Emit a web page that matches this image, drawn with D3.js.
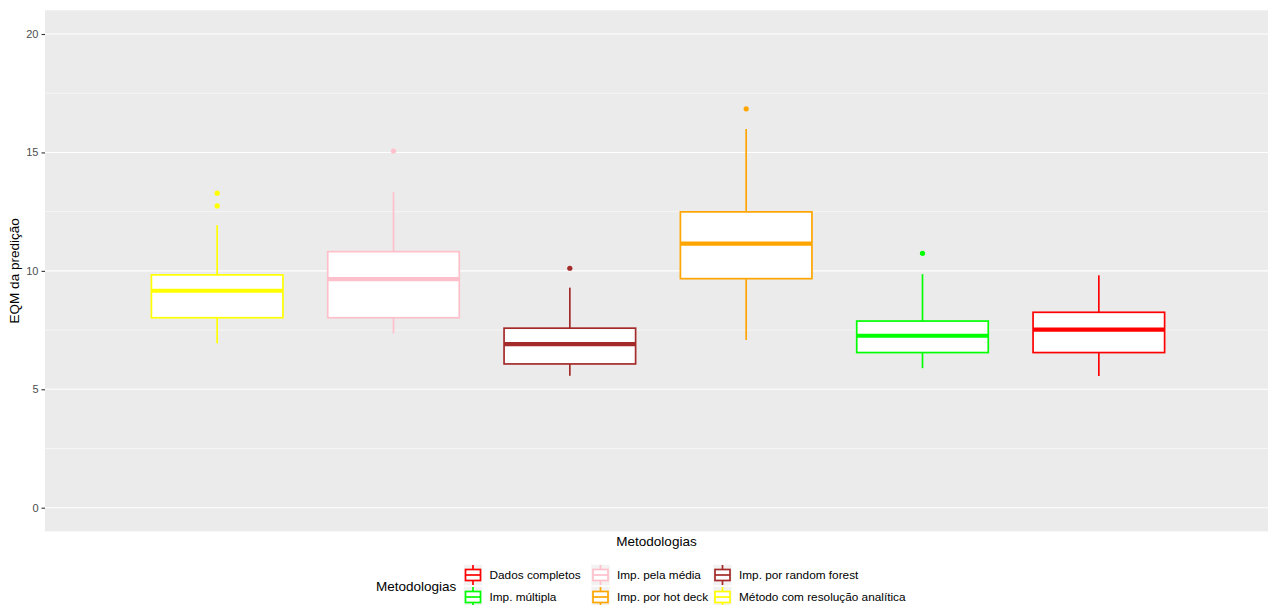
<!DOCTYPE html>
<html>
<head>
<meta charset="utf-8">
<script src="https://cdn.jsdelivr.net/npm/d3@7"></script>
<style>
  html, body { margin: 0; padding: 0; background: #ffffff; }
  svg { display: block; font-family: "Liberation Sans", Arial, sans-serif; }
</style>
</head>
<body>
<svg id="chart" width="1269" height="605"></svg>
<script>
// Methods, in the order the boxes are drawn left to right
const methods = [
  "Método com resolução analítica",
  "Imp. pela média",
  "Imp. por random forest",
  "Imp. por hot deck",
  "Imp. múltipla",
  "Dados completos"
];
const colors = ["#FFFF00", "#FFC0CB", "#A52A2A", "#FFA500", "#00FF00", "#FF0000"];

// Box summaries (prediction MSE per method)
const lowerWhisker = [6.94, 7.36, 5.57, 7.08, 5.89, 5.56];
const q1           = [8.02, 8.02, 6.07, 9.67, 6.55, 6.55];
const median       = [9.16, 9.65, 6.91, 11.15, 7.26, 7.52];
const q3           = [9.83, 10.81, 7.58, 12.49, 7.88, 8.25];
const upperWhisker = [11.93, 13.32, 9.29, 15.99, 9.86, 9.81];
const outliers     = [[13.28, 12.74], [15.06], [10.11], [16.84], [10.74], []];

// Y axis ticks
const yTicks = [0, 5, 10, 15, 20];
const yMinor = [2.5, 7.5, 12.5, 17.5];

// Legend order (alphabetical, filled column by column in 2 rows)
const legendOrder = [
  "Dados completos", "Imp. múltipla",
  "Imp. pela média", "Imp. por hot deck",
  "Imp. por random forest", "Método com resolução analítica"
];

const svg = d3.select("#chart");
const panel = { left: 45, right: 1268 };

const y = d3.scaleLinear().domain([0, 20]).range([507.7, 34]);
const color = d3.scaleOrdinal().domain(methods).range(colors);
const x = d3.scaleBand().domain(methods).range([129, 1187])
  .paddingInner(0.254).paddingOuter(0.127);

// Panel background
svg.append("rect")
  .attr("x", panel.left).attr("y", y(21))
  .attr("width", panel.right - panel.left).attr("height", y(-1) - y(21))
  .attr("fill", "#EBEBEB");

// Grid lines
svg.append("g").selectAll("line").data(yMinor).join("line")
  .attr("x1", panel.left).attr("x2", panel.right)
  .attr("y1", d => y(d)).attr("y2", d => y(d))
  .attr("stroke", "#ffffff").attr("stroke-width", 0.55);
svg.append("g").selectAll("line").data(yTicks).join("line")
  .attr("x1", panel.left).attr("x2", panel.right)
  .attr("y1", d => y(d)).attr("y2", d => y(d))
  .attr("stroke", "#ffffff").attr("stroke-width", 1.1);

// Y axis
const yAxis = svg.append("g")
  .attr("transform", `translate(${panel.left},0)`)
  .call(d3.axisLeft(y).tickValues(yTicks).tickSize(3.5).tickPadding(3).tickFormat(d3.format("d")));
yAxis.select(".domain").remove();
yAxis.selectAll(".tick line").attr("stroke", "#333333").attr("stroke-width", 1.1);
yAxis.selectAll(".tick text").attr("fill", "#4D4D4D").attr("font-size", "11px")
  .attr("font-family", "Liberation Sans, Arial, sans-serif");

// Axis titles
svg.append("text")
  .attr("transform", `translate(19,${(y(21) + y(-1)) / 2}) rotate(-90)`)
  .attr("text-anchor", "middle").attr("font-size", "13.5px").attr("fill", "#000")
  .text("EQM da predição");
svg.append("text")
  .attr("x", (panel.left + panel.right) / 2).attr("y", 546)
  .attr("text-anchor", "middle").attr("font-size", "13.5px").attr("fill", "#000")
  .text("Metodologias");

// Boxplots
const boxes = svg.append("g").selectAll("g").data(methods).join("g")
  .attr("stroke", d => color(d));

boxes.each(function (m, i) {
  const g = d3.select(this);
  const cx = x(m) + x.bandwidth() / 2;
  g.append("line").attr("x1", cx).attr("x2", cx)
    .attr("y1", y(upperWhisker[i])).attr("y2", y(q3[i])).attr("stroke-width", 1.7);
  g.append("line").attr("x1", cx).attr("x2", cx)
    .attr("y1", y(q1[i])).attr("y2", y(lowerWhisker[i])).attr("stroke-width", 1.7);
  g.append("rect")
    .attr("x", x(m)).attr("width", x.bandwidth())
    .attr("y", y(q3[i])).attr("height", y(q1[i]) - y(q3[i]))
    .attr("fill", "#ffffff").attr("stroke-width", 1.7);
  g.append("line").attr("x1", x(m)).attr("x2", x(m) + x.bandwidth())
    .attr("y1", y(median[i])).attr("y2", y(median[i])).attr("stroke-width", 4.2);
  g.selectAll("circle").data(outliers[i]).join("circle")
    .attr("cx", cx).attr("cy", d => y(d)).attr("r", 2.6)
    .attr("fill", color(m)).attr("stroke", "none");
});

// Legend
const legend = svg.append("g");
legend.append("text")
  .attr("x", 376).attr("y", 586).attr("dy", "0.35em")
  .attr("font-size", "13.5px").attr("fill", "#000").text("Metodologias");

const colX = [463.5, 591, 713];
const rowY = [575, 597];
const keyW = 19, keyH = 21;
legendOrder.forEach((m, k) => {
  const col = Math.floor(k / 2), row = k % 2;
  const kx = colX[col], ky = rowY[row];
  const item = legend.append("g");
  item.append("rect")
    .attr("x", kx).attr("y", ky - keyH / 2).attr("width", keyW).attr("height", keyH)
    .attr("fill", "#F2F2F2").attr("stroke", "#ffffff").attr("stroke-width", 0.6);
  const gk = item.append("g").attr("stroke", color(m)).attr("stroke-width", 1.7);
  const cx = kx + keyW / 2;
  gk.append("line").attr("x1", cx).attr("x2", cx).attr("y1", ky - keyH / 2 + 0.5).attr("y2", ky - 5.5);
  gk.append("line").attr("x1", cx).attr("x2", cx).attr("y1", ky + 5.5).attr("y2", ky + keyH / 2 - 0.5);
  gk.append("rect").attr("x", kx + 2).attr("y", ky - 5.5).attr("width", keyW - 4).attr("height", 11)
    .attr("fill", "#ffffff");
  gk.append("line").attr("x1", kx + 2).attr("x2", kx + keyW - 2).attr("y1", ky).attr("y2", ky);
  item.append("text")
    .attr("x", kx + keyW + 7).attr("y", ky).attr("dy", "0.35em")
    .attr("font-size", "11.8px").attr("fill", "#000").text(m);
});
</script>
</body>
</html>
